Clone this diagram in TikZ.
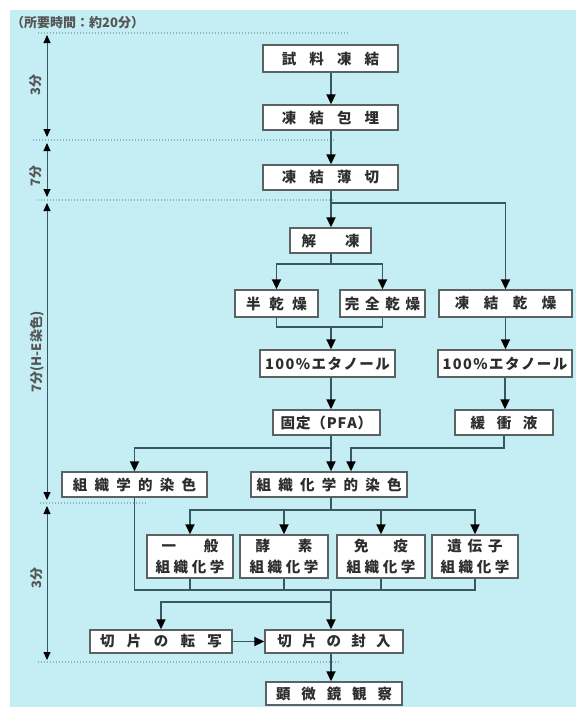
\documentclass[tikz,border=0pt]{standalone}
\usepackage{fontspec}
\usetikzlibrary{arrows.meta}
\newfontfamily\cjk{Noto Sans CJK JP}
\definecolor{bgc}{RGB}{197,238,244}
\definecolor{linec}{RGB}{55,88,95}
\definecolor{boxc}{RGB}{90,98,100}
\definecolor{txtc}{RGB}{45,45,45}
\definecolor{dotc}{RGB}{140,180,192}
\definecolor{labc}{RGB}{85,85,85}
\makeatletter
\newcommand\spc[2]{\def\spc@gap{\hspace{#1}}\spc@a#2\@nil}
\def\spc@a#1{\ifx#1\@nil\else#1\expandafter\spc@b\fi}
\def\spc@b#1{\ifx#1\@nil\else\spc@gap#1\expandafter\spc@b\fi}
\makeatother
\tikzset{
  box/.style={draw=boxc, fill=white, line width=1.4pt, inner sep=0pt, text=txtc,
    font=\cjk\bfseries\fontsize{14.5}{16}\selectfont},
  boxtwo/.style={box, minimum height=43pt, align=center,
    font=\cjk\bfseries\fontsize{14.5}{21}\selectfont},
  conn/.style={draw=linec, line width=1.8pt},
  arr/.style={conn, -{Triangle[length=10pt,width=9pt,color=black]}},
  tline/.style={draw=linec, line width=1pt,
    {Triangle[length=8pt,width=7pt,color=black]}-{Triangle[length=8pt,width=7pt,color=black]}},
  dline/.style={draw=dotc, line width=1.3pt, dash pattern=on 1.3pt off 1.7pt},
  tlab/.style={rotate=90, text=labc, inner sep=0pt,
    font=\cjk\bfseries\fontsize{13}{15}\selectfont},
}
\begin{document}
\begin{tikzpicture}[x=1pt,y=-1pt]
\useasboundingbox (0,0) rectangle (576,707);
\fill[bgc] (10,10) rectangle (576,707);

% title
\node[anchor=west, inner sep=0pt, text=labc, font=\cjk\bfseries\fontsize{13}{15}\selectfont] (title) at (11,23) {（所要時間：約20分）};

% dotted separators
\coordinate (d1a) at (38,33);  \coordinate (d1b) at (348,33);
\coordinate (d2a) at (33,140); \coordinate (d2b) at (335,140);
\coordinate (d3a) at (38,200); \coordinate (d3b) at (335,200);
\coordinate (d4a) at (40,503); \coordinate (d4b) at (148,503);
\coordinate (d5a) at (38,662); \coordinate (d5b) at (341,662);
\draw[dline] (d1a) -- (d1b);
\draw[dline] (d2a) -- (d2b);
\draw[dline] (d3a) -- (d3b);
\draw[dline] (d4a) -- (d4b);
\draw[dline] (d5a) -- (d5b);

% time line
\coordinate (t0) at (47,35);  \coordinate (t1) at (47,137);
\coordinate (t2) at (47,143); \coordinate (t3) at (47,197);
\coordinate (t4) at (47,203); \coordinate (t5) at (47,500);
\coordinate (t6) at (47,506); \coordinate (t7) at (47,660);
\draw[tline] (t0) -- (t1);
\draw[tline] (t2) -- (t3);
\draw[tline] (t4) -- (t5);
\draw[tline] (t6) -- (t7);
\node[tlab] (L1) at (36,85) {3分};
\node[tlab] (L2) at (36,176) {7分};
\node[tlab] (L3) at (37,352) {7分(H-E染色)};
\node[tlab] (L4) at (37,578) {3分};

% boxes
\node[box, minimum width=135pt, minimum height=27pt] (n1) at (330.5,58.5) {\spc{0.9em}{試料凍結}};
\node[box, minimum width=135pt, minimum height=25pt] (n2) at (330.5,117.5) {\spc{0.9em}{凍結包埋}};
\node[box, minimum width=135pt, minimum height=25pt] (n3) at (330.5,177.5) {\spc{0.9em}{凍結薄切}};
\node[box, minimum width=81pt, minimum height=25pt] (n4) at (330.5,240.5) {\spc{2em}{解凍}};
\node[box, minimum width=83pt, minimum height=27pt] (n5) at (276.5,303.5) {\spc{0.6em}{半乾燥}};
\node[box, minimum width=85pt, minimum height=27pt] (n6) at (382.5,303.5) {\spc{0.4em}{完全乾燥}};
\node[box, minimum width=133pt, minimum height=27pt] (n7) at (505.5,303.5) {\spc{1em}{凍結乾燥}};
\node[box, minimum width=135pt, minimum height=27pt] (n8) at (327.5,363.5) {\spc{0.1em}{100\%エタノール}};
\node[box, minimum width=134pt, minimum height=27pt] (n9) at (505,363.5) {\spc{0.1em}{100\%エタノール}};
\node[box, minimum width=107pt, minimum height=25pt] (n10) at (326.5,422.5) {\spc{0.06em}{固定（PFA）}};
\node[box, minimum width=98pt, minimum height=25pt] (n11) at (504,422.5) {\spc{0.8em}{緩衝液}};
\node[box, minimum width=145pt, minimum height=25pt] (n12) at (134.5,484.5) {\spc{0.5em}{組織学的染色}};
\node[box, minimum width=156pt, minimum height=25pt] (n13) at (329,484.5) {\spc{0.5em}{組織化学的染色}};
\node[boxtwo, minimum width=86pt] (n14) at (190,556.5) {\spc{1.9em}{一般}\\\spc{0.25em}{組織化学}};
\node[boxtwo, minimum width=88pt] (n15) at (284,556.5) {\spc{1.9em}{酵素}\\\spc{0.25em}{組織化学}};
\node[boxtwo, minimum width=88pt] (n16) at (381,556.5) {\spc{1.7em}{免疫}\\\spc{0.25em}{組織化学}};
\node[boxtwo, minimum width=86pt] (n17) at (475,556.5) {\spc{0.4em}{遺伝子}\\\spc{0.25em}{組織化学}};
\node[box, minimum width=142pt, minimum height=23pt] (n18) at (161,641.5) {\spc{0.85em}{切片の転写}};
\node[box, minimum width=138pt, minimum height=23pt] (n19) at (334,641.5) {\spc{0.7em}{切片の封入}};
\node[box, minimum width=136pt, minimum height=23pt] (n20) at (334,693.5) {\spc{0.75em}{顕微鏡観察}};

% junction coordinates
\coordinate (mx) at (331,0);
\coordinate (b1) at (331,203);
\coordinate (b2) at (331,264);
\coordinate (b3) at (331,327);
\coordinate (b4) at (331,448);
\coordinate (b5) at (351,448);
\coordinate (b6) at (331,510);
\coordinate (b7) at (331,590);
\coordinate (b8) at (331,602);

% connectors
\draw[arr] (n1.south -| mx) -- (n2.north -| mx);
\draw[arr] (n2.south -| mx) -- (n3.north -| mx);
\draw[arr] (n3.south -| mx) -- (n4.north -| mx);
\draw[arr] (b1) -| (n7.north);
\draw[conn] (n4.south -| mx) -- (b2);
\draw[arr] (b2) -| (n5.north);
\draw[arr] (b2) -| (n6.north);
\draw[conn] (n5.south) |- (b3);
\draw[conn] (n6.south) |- (b3);
\draw[arr] (b3) -- (n8.north -| b3);
\draw[arr] (n8.south -| mx) -- (n10.north -| mx);
\draw[arr] (n7.south) -- (n9.north -| n7.south);
\draw[arr] (n9.south) -- (n11.north -| n9.south);
\draw[arr] (n10.south -| mx) -- (n13.north -| mx);
\draw[arr] (b4) -| (n12.north);
\draw[arr] (n11.south) |- (b5) -- (n13.north -| b5);
\draw[conn] (n13.south -| mx) -- (b6);
\draw[arr] (b6) -| (n14.north);
\draw[arr] (b6) -| (n15.north);
\draw[arr] (b6) -| (n16.north);
\draw[arr] (b6) -| (n17.north);
\draw[conn] (n12.south) |- (b7);
\draw[conn] (n17.south) |- (b7);
\draw[conn] (n14.south) -- (n14.south |- b7);
\draw[conn] (n15.south) -- (n15.south |- b7);
\draw[conn] (n16.south) -- (n16.south |- b7);
\draw[arr] (b7) -- (n19.north -| b7);
\draw[arr] (b8) -| (n18.north);
\draw[arr] (n18.east) -- (n19.west);
\draw[arr] (n19.south -| mx) -- (n20.north -| mx);
\end{tikzpicture}
\end{document}
